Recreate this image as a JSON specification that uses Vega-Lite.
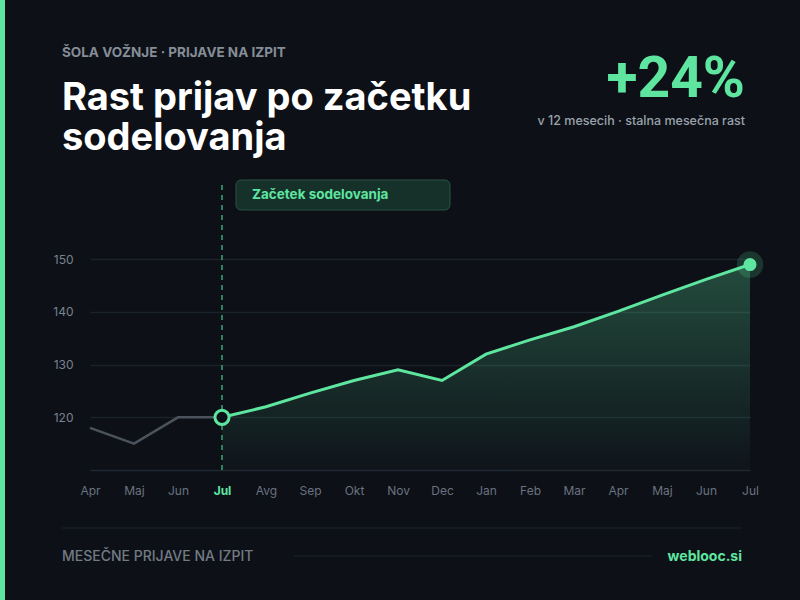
{
  "$schema": "https://vega.github.io/schema/vega-lite/v6.json",
  "width": 660,
  "height": 285,
  "autosize": {"type": "none"},
  "padding": {"left": 90, "top": 185, "right": 50, "bottom": 130},
  "background": "#0d1017",
  "config": {
    "view": {"stroke": null},
    "font": "Inter",
    "text": {"font": "Inter"}
  },
  "datasets": {
    "prijave": [
      {"mesec": "2024-04", "prijave": 118},
      {"mesec": "2024-05", "prijave": 115},
      {"mesec": "2024-06", "prijave": 120},
      {"mesec": "2024-07", "prijave": 120},
      {"mesec": "2024-08", "prijave": 122},
      {"mesec": "2024-09", "prijave": 124.6},
      {"mesec": "2024-10", "prijave": 127},
      {"mesec": "2024-11", "prijave": 129},
      {"mesec": "2024-12", "prijave": 127},
      {"mesec": "2025-01", "prijave": 132},
      {"mesec": "2025-02", "prijave": 134.7},
      {"mesec": "2025-03", "prijave": 137.2},
      {"mesec": "2025-04", "prijave": 140.1},
      {"mesec": "2025-05", "prijave": 143.2},
      {"mesec": "2025-06", "prijave": 146.2},
      {"mesec": "2025-07", "prijave": 149}
    ],
    "ena": [{}]
  },
  "data": {"name": "prijave"},
  "layer": [
    {
      "transform": [{"filter": "datum.mesec >= '2024-07'"}],
      "mark": {
        "type": "area",
        "line": false,
        "color": {
          "gradient": "linear",
          "x1": 0, "y1": 0, "x2": 0, "y2": 1,
          "stops": [
            {"offset": 0, "color": "rgba(94,230,160,0.28)"},
            {"offset": 1, "color": "rgba(94,230,160,0.02)"}
          ]
        }
      },
      "encoding": {
        "x": {
          "field": "mesec",
          "type": "ordinal",
          "title": null,
          "scale": {"type": "point", "padding": 0},
          "axis": {
            "labelExpr": "['','Jan','Feb','Mar','Apr','Maj','Jun','Jul','Avg','Sep','Okt','Nov','Dec'][toNumber(substring(datum.value,5,7))]",
            "labelAngle": 0,
            "ticks": false,
            "grid": false,
            "domain": true,
            "domainColor": "#1f2830",
            "domainWidth": 1.5,
            "labelPadding": 15,
            "labelFontSize": 12,
            "labelFont": "Inter",
            "labelColor": {"condition": {"test": "datum.value == '2024-07'", "value": "#5ee6a0"}, "value": "#6b7380"},
            "labelFontWeight": {"condition": {"test": "datum.value == '2024-07'", "value": 700}, "value": 400}
          }
        },
        "y": {
          "field": "prijave",
          "type": "quantitative",
          "title": null,
          "scale": {"domain": [110, 164.1], "nice": false, "zero": false},
          "axis": {
            "values": [120, 130, 140, 150],
            "ticks": false,
            "domain": false,
            "grid": true,
            "gridColor": "#1b222a",
            "gridWidth": 1.5,
            "labelPadding": 17,
            "labelFontSize": 12,
            "labelFont": "Inter",
            "labelColor": "#7a828d"
          }
        },
        "y2": {"datum": 110}
      }
    },
    {
      "data": {"name": "ena"},
      "mark": {"type": "rule", "color": "#3aa674", "strokeWidth": 1.5, "strokeDash": [5, 5]},
      "encoding": {
        "x": {"datum": "2024-07", "type": "ordinal"},
        "y": {"datum": 164.1, "type": "quantitative"},
        "y2": {"datum": 110}
      }
    },
    {
      "transform": [{"filter": "datum.mesec <= '2024-07'"}],
      "mark": {"type": "line", "color": "#4a525c", "strokeWidth": 2.5},
      "encoding": {
        "x": {"field": "mesec", "type": "ordinal"},
        "y": {"field": "prijave", "type": "quantitative"}
      }
    },
    {
      "transform": [{"filter": "datum.mesec >= '2024-07'"}],
      "mark": {"type": "line", "color": "#5ee6a0", "strokeWidth": 3},
      "encoding": {
        "x": {"field": "mesec", "type": "ordinal"},
        "y": {"field": "prijave", "type": "quantitative"}
      }
    },
    {
      "transform": [{"filter": "datum.mesec == '2024-07'"}],
      "mark": {"type": "point", "shape": "circle", "filled": false, "fill": "#0d1017", "fillOpacity": 1, "stroke": "#5ee6a0", "strokeWidth": 3, "size": 200, "opacity": 1},
      "encoding": {
        "x": {"field": "mesec", "type": "ordinal"},
        "y": {"field": "prijave", "type": "quantitative"}
      }
    },
    {
      "transform": [{"filter": "datum.mesec == '2025-07'"}],
      "mark": {"type": "circle", "color": "#5ee6a0", "opacity": 0.18, "size": 700},
      "encoding": {
        "x": {"field": "mesec", "type": "ordinal"},
        "y": {"field": "prijave", "type": "quantitative"}
      }
    },
    {
      "transform": [{"filter": "datum.mesec == '2025-07'"}],
      "mark": {"type": "circle", "color": "#5ee6a0", "opacity": 1, "size": 170},
      "encoding": {
        "x": {"field": "mesec", "type": "ordinal"},
        "y": {"field": "prijave", "type": "quantitative"}
      }
    },
    {
      "data": {"name": "ena"},
      "mark": {"type": "rect", "fill": "#16302a", "stroke": "#2b5242", "strokeWidth": 1, "cornerRadius": 5, "xOffset": 14, "x2Offset": 8},
      "encoding": {
        "x": {"datum": "2024-07", "type": "ordinal"},
        "x2": {"datum": "2024-12"},
        "y": {"datum": 165.05, "type": "quantitative"},
        "y2": {"datum": 159.36}
      }
    },
    {
      "data": {"name": "ena"},
      "mark": {"type": "text", "align": "left", "baseline": "middle", "xOffset": 30, "fontSize": 13.5, "fontWeight": 700, "color": "#5ee6a0"},
      "encoding": {
        "x": {"datum": "2024-07", "type": "ordinal"},
        "y": {"datum": 162.2, "type": "quantitative"},
        "text": {"value": "Začetek sodelovanja"}
      }
    },
    {
      "data": {"name": "ena"},
      "mark": {"type": "rect", "fill": "#5ee6a0", "xOffset": -90, "x2Offset": -85},
      "encoding": {
        "x": {"datum": "2024-04", "type": "ordinal"},
        "x2": {"datum": "2024-04"},
        "y": {"datum": 199.22, "type": "quantitative"},
        "y2": {"datum": 85.32}
      }
    },
    {
      "data": {"name": "ena"},
      "mark": {"type": "text", "align": "left", "baseline": "middle", "xOffset": -28, "fontSize": 13.5, "fontWeight": 700, "color": "#858d97"},
      "encoding": {
        "x": {"datum": "2024-04", "type": "ordinal"},
        "y": {"datum": 189.16, "type": "quantitative"},
        "text": {"value": "ŠOLA VOŽNJE · PRIJAVE NA IZPIT"}
      }
    },
    {
      "data": {"name": "ena"},
      "mark": {"type": "text", "align": "left", "baseline": "alphabetic", "xOffset": -28, "fontSize": 38, "fontWeight": 700, "color": "#ffffff"},
      "encoding": {
        "x": {"datum": "2024-04", "type": "ordinal"},
        "y": {"datum": 178.34, "type": "quantitative"},
        "text": {"value": "Rast prijav po začetku"}
      }
    },
    {
      "data": {"name": "ena"},
      "mark": {"type": "text", "align": "left", "baseline": "alphabetic", "xOffset": -28, "fontSize": 38, "fontWeight": 700, "color": "#ffffff"},
      "encoding": {
        "x": {"datum": "2024-04", "type": "ordinal"},
        "y": {"datum": 170.75, "type": "quantitative"},
        "text": {"value": "sodelovanja"}
      }
    },
    {
      "data": {"name": "ena"},
      "mark": {"type": "text", "align": "right", "baseline": "alphabetic", "xOffset": -5, "font": "Roboto", "fontSize": 57, "fontWeight": 700, "color": "#5ee6a0"},
      "encoding": {
        "x": {"datum": "2025-07", "type": "ordinal"},
        "y": {"datum": 180.81, "type": "quantitative"},
        "text": {"value": "+24%"}
      }
    },
    {
      "data": {"name": "ena"},
      "mark": {"type": "text", "align": "right", "baseline": "middle", "xOffset": -5, "fontSize": 12.5, "fontWeight": 500, "color": "#9aa2ab"},
      "encoding": {
        "x": {"datum": "2025-07", "type": "ordinal"},
        "y": {"datum": 176.25, "type": "quantitative"},
        "text": {"value": "v 12 mesecih · stalna mesečna rast"}
      }
    },
    {
      "data": {"name": "ena"},
      "mark": {"type": "rule", "color": "#1c252d", "strokeWidth": 1, "xOffset": -28, "x2Offset": -8},
      "encoding": {
        "x": {"datum": "2024-04", "type": "ordinal"},
        "x2": {"datum": "2025-07"},
        "y": {"datum": 98.99, "type": "quantitative"}
      }
    },
    {
      "data": {"name": "ena"},
      "mark": {"type": "rule", "color": "#1c252d", "strokeWidth": 1, "xOffset": -16, "x2Offset": -10},
      "encoding": {
        "x": {"datum": "2024-09", "type": "ordinal"},
        "x2": {"datum": "2025-05"},
        "y": {"datum": 93.68, "type": "quantitative"}
      }
    },
    {
      "data": {"name": "ena"},
      "mark": {"type": "text", "align": "left", "baseline": "middle", "xOffset": -28, "fontSize": 14, "fontWeight": 500, "color": "#737b85"},
      "encoding": {
        "x": {"datum": "2024-04", "type": "ordinal"},
        "y": {"datum": 93.49, "type": "quantitative"},
        "text": {"value": "MESEČNE PRIJAVE NA IZPIT"}
      }
    },
    {
      "data": {"name": "ena"},
      "mark": {"type": "text", "align": "right", "baseline": "middle", "xOffset": -8, "fontSize": 14, "fontWeight": 700, "color": "#5ee6a0"},
      "encoding": {
        "x": {"datum": "2025-07", "type": "ordinal"},
        "y": {"datum": 93.49, "type": "quantitative"},
        "text": {"value": "weblooc.si"}
      }
    }
  ]
}
